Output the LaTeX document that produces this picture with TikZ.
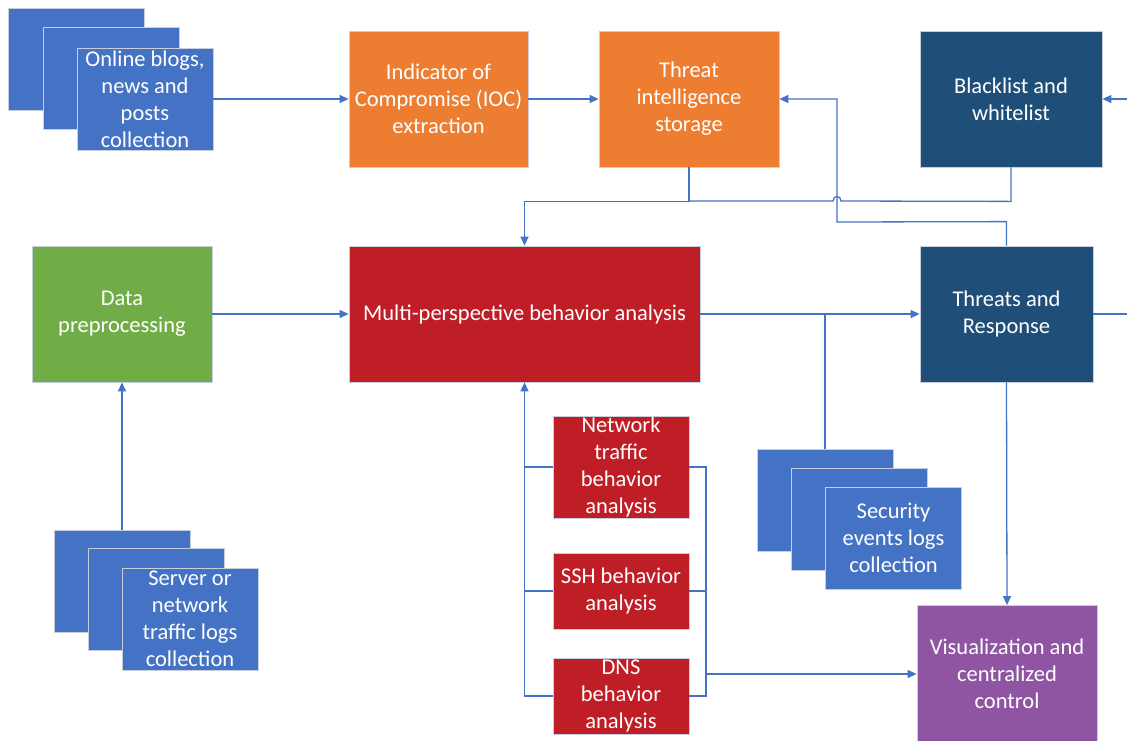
\documentclass[tikz,border=0pt]{standalone}
\usepackage{fontspec}
\setmainfont{Carlito}
\usetikzlibrary{arrows.meta}
\definecolor{stackblue}{HTML}{4472C4}
\definecolor{edgegray}{HTML}{C8CFDC}
\definecolor{ocorange}{HTML}{ED7D31}
\definecolor{darkblue}{HTML}{1F4E79}
\definecolor{ocgreen}{HTML}{70AD47}
\definecolor{ocred}{HTML}{C01E26}
\definecolor{ocpurple}{HTML}{8F55A3}
\definecolor{linkblue}{HTML}{4472C4}
\tikzset{
  box/.style={draw=edgegray, line width=0.8pt, text=white, align=center, inner sep=0pt,
    font=\fontsize{22.5}{27}\selectfont},
  stackbox/.style={box, fill=stackblue, minimum width=136pt, minimum height=102pt},
  bigbox/.style={box, minimum width=180pt, minimum height=136pt},
  smallred/.style={box, fill=ocred, minimum width=136pt},
  link/.style={draw=linkblue, line width=1.3pt},
  arrow/.style={link, -{Triangle[length=9pt,width=8pt]}}
}
\begin{document}
\begin{tikzpicture}[x=1pt,y=-1pt]
\useasboundingbox (0,0) rectangle (1127,740);
% stack 1
\node[stackbox] (s1a) at (76.5,59) {};
\node[stackbox] (s1b) at (111,78) {};
\node[stackbox] (s1) at (145,99) {Online blogs,\\news and\\posts\\collection};
% top row
\node[bigbox, fill=ocorange, minimum width=179pt] (ioc) at (438.5,99) {Indicator of\\Compromise (IOC)\\extraction};
\node[bigbox, fill=ocorange] (tis) at (689,99) {Threat\\intelligence\\storage};
\node[bigbox, fill=darkblue, minimum width=182pt] (bw) at (1011,99) {Blacklist and\\whitelist};
% middle row
\node[bigbox, fill=ocgreen] (dp) at (122,314) {Data\\preprocessing};
\node[bigbox, fill=ocred, minimum width=351pt] (mpa) at (524.5,314) {Multi-perspective behavior analysis};
\node[bigbox, fill=darkblue, minimum width=173pt] (tr) at (1006.5,314) {Threats and\\Response};
% analysis boxes
\node[smallred, minimum height=102pt] (nt) at (621,467) {Network\\traffic\\behavior\\analysis};
\node[smallred, minimum height=76pt] (ssh) at (621,591) {SSH behavior\\analysis};
\node[smallred, minimum height=76pt] (dns) at (621,696) {DNS\\behavior\\analysis};
% visualization
\node[bigbox, fill=ocpurple] (vis) at (1007,673.5) {Visualization and\\centralized\\control};
% stack 2
\node[stackbox] (s2a) at (825,500.5) {};
\node[stackbox] (s2b) at (859,519) {};
\node[stackbox] (s2) at (893.5,538) {Security\\events logs\\collection};
% stack 3
\node[stackbox] (s3a) at (122,581) {};
\node[stackbox] (s3b) at (156,599.5) {};
\node[stackbox] (s3) at (190,619) {Server or\\network\\traffic logs\\collection};
% free ends
\coordinate (rin) at (1127,99);
\coordinate (rout) at (1127,314);
\coordinate (rb) at (706,674);
% connectors
\draw[arrow] (s1.east) -- (ioc.west);
\draw[arrow] (ioc.east) -- (tis.west);
\draw[arrow] (rin) -- (bw.east);
\draw[arrow] (dp.east) -- (mpa.west);
\draw[arrow] (s3a.north) -- (dp.south);
\draw[arrow] (mpa.east) -- (tr.west);
\draw[link] (s2a.north) -- (s2a.north |- mpa.east);
\draw[link] (tr.east) -- (rout);
\draw[arrow] (tis.south) -- ++(0,34) -| (mpa.north);
\draw[link] (bw.south) -- ++(0,34) -- (841,201)
  .. controls (841,195) and (833,195) .. (833,201) -- (tis.south |- 0,201);
\draw[arrow] (tr.north) -- ++(0,-24) -- (837,222) -- (837,99) -- (tis.east);
\draw[arrow] (tr.south) -- (vis.north);
% left bus
\draw[link] (nt.west) -- (nt.west -| mpa.south);
\draw[link] (ssh.west) -- (ssh.west -| mpa.south);
\draw[arrow] (dns.west) -| (mpa.south);
% right bus
\draw[link] (nt.east) -- (706,467) -- (706,696) -- (dns.east);
\draw[link] (ssh.east) -- (ssh.east -| rb);
\draw[arrow] (rb) -- (rb -| vis.west);
\end{tikzpicture}
\end{document}
